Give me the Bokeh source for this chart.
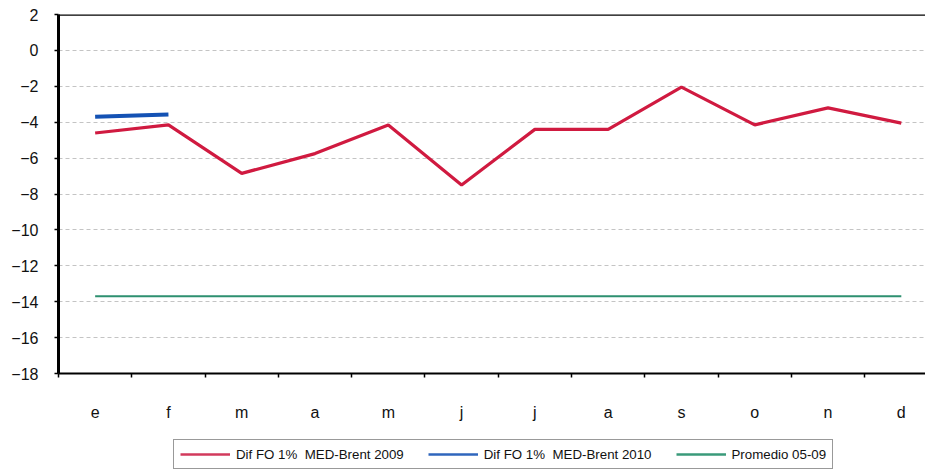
from bokeh.plotting import figure
from bokeh.models import Range1d, FixedTicker, Legend, LegendItem, Span
from bokeh.layouts import column
from bokeh.embed import file_html
from bokeh.resources import INLINE

# ---- data ----
months = ["e", "f", "m", "a", "m", "j", "j", "a", "s", "o", "n", "d"]
dif_2009 = [-4.6, -4.15, -6.85, -5.75, -4.15, -7.5, -4.4, -4.4, -2.05, -4.15, -3.2, -4.05]
dif_2010 = [-3.7, -3.57]
promedio_05_09 = [-13.7, -13.7, -13.7, -13.7, -13.7, -13.7, -13.7, -13.7, -13.7, -13.7, -13.7, -13.7]
y_ticks = [-18, -16, -14, -12, -10, -8, -6, -4, -2, 0, 2]
series_labels = ["Dif FO 1%  MED-Brent 2009", "Dif FO 1%  MED-Brent 2010", "Promedio 05-09"]

x_pos = [i + 0.5 for i in range(len(months))]
x_bounds = list(range(len(months) + 1))

FONT = "Liberation Sans"
C09, C10, CPR = "#d01a40", "#1452b4", "#2e9070"

p = figure(width=925, height=430, output_backend="svg", toolbar_location=None,
           x_range=Range1d(0, 11.83), y_range=Range1d(-18, 2),
           min_border_left=58, min_border_right=0, min_border_top=14,
           min_border_bottom=57)
p.outline_line_color = None
p.background_fill_color = "white"
p.border_fill_color = "white"

# grid
p.xgrid.grid_line_color = None
p.ygrid.ticker = FixedTicker(ticks=y_ticks)
p.ygrid.grid_line_color = "#c4c4c4"
p.ygrid.grid_line_dash = "4 3"
p.ygrid.grid_line_width = 1

# y axis
p.yaxis.ticker = FixedTicker(ticks=y_ticks)
p.yaxis.axis_line_color = "black"
p.yaxis.axis_line_width = 3
p.yaxis.major_tick_line_color = "black"
p.yaxis.major_tick_line_width = 1.5
p.yaxis.major_tick_out = 4
p.yaxis.major_tick_in = 0
p.yaxis.minor_tick_line_color = None
p.yaxis.major_label_standoff = 16
p.yaxis.major_label_text_font = FONT
p.yaxis.major_label_text_font_size = "16px"
p.yaxis.major_label_text_color = "#111111"

# x axis
p.xaxis.ticker = FixedTicker(ticks=x_pos, minor_ticks=x_bounds)
p.xaxis.major_label_overrides = {x: m for x, m in zip(x_pos, months)}
p.xaxis.axis_line_color = "black"
p.xaxis.axis_line_width = 2
p.xaxis.major_tick_line_color = None
p.xaxis.major_tick_out = 0
p.xaxis.major_tick_in = 0
p.xaxis.minor_tick_line_color = "black"
p.xaxis.minor_tick_line_width = 1.5
p.xaxis.minor_tick_out = 4
p.xaxis.minor_tick_in = 0
p.xaxis.major_label_standoff = 26
p.xaxis.major_label_text_font = FONT
p.xaxis.major_label_text_font_size = "16px"
p.xaxis.major_label_text_color = "#111111"

# top border
p.add_layout(Span(location=2, dimension="width", line_color="black", line_width=2.5))

# series
p.line(x_pos, dif_2009, line_color=C09, line_width=3.2)
p.line(x_pos[:len(dif_2010)], dif_2010, line_color=C10, line_width=4)
p.line(x_pos, promedio_05_09, line_color=CPR, line_width=2)

# ---- legend strip below the chart ----
# (series are re-plotted here outside the visible range so the legend has glyphs)
lg = figure(width=925, height=40, output_backend="svg", toolbar_location=None,
            x_range=Range1d(0, 1), y_range=Range1d(0, 1),
            x_axis_location=None, y_axis_location=None,
            min_border_left=0, min_border_right=0, min_border_top=0,
            min_border_bottom=0)
lg.outline_line_color = None
lg.xgrid.grid_line_color = None
lg.ygrid.grid_line_color = None
lg.border_fill_color = "white"
lg.background_fill_color = "white"

k09 = lg.line(x_pos, dif_2009, line_color="#d23a5c", line_width=2.5)
k10 = lg.line(x_pos[:len(dif_2010)], dif_2010, line_color="#2f66bd", line_width=2.5)
kpr = lg.line(x_pos, promedio_05_09, line_color="#3a9a7a", line_width=2.5)

legend = Legend(items=[
    LegendItem(label=series_labels[0], renderers=[k09]),
    LegendItem(label=series_labels[1], renderers=[k10]),
    LegendItem(label=series_labels[2], renderers=[kpr]),
], orientation="horizontal", location=(115, 1), margin=0, padding=6,
   spacing=24, glyph_width=50, glyph_height=16, label_standoff=6,
   label_text_font=FONT, label_text_font_size="13.3px",
   label_text_color="#111111",
   border_line_color="#333333", border_line_width=1.5,
   background_fill_color="white")
lg.add_layout(legend)

layout = column(p, lg, spacing=0)

open("out.html", "w").write(file_html(layout, INLINE))
